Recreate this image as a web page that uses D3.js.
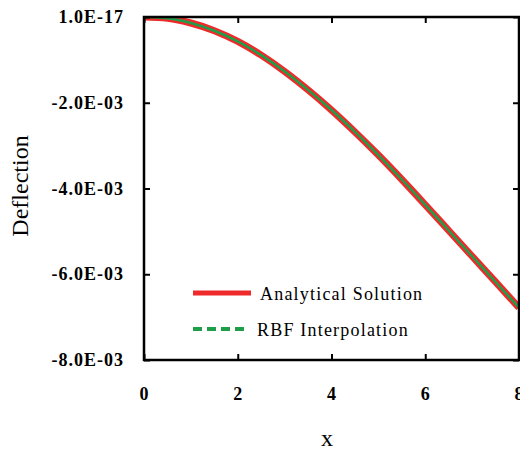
<!DOCTYPE html>
<html>
<head>
<meta charset="utf-8">
<script src="https://cdn.jsdelivr.net/npm/d3@7"></script>
<style>
  body { margin: 0; background: #fff; }
  text { font-family: "Liberation Serif", "Times New Roman", serif; }
</style>
</head>
<body>
<svg id="chart" width="520" height="454"></svg>
<script>
// values
const xValues = [0, 0.5, 1, 1.5, 2, 2.5, 3, 3.5, 4, 4.5, 5, 5.5, 6, 6.5, 7, 7.5, 8];
const analytical = [0, -0.00003, -0.00014, -0.00032, -0.00057, -0.00089, -0.00127, -0.00170,
    -0.00217, -0.00268, -0.00322, -0.00379, -0.00438, -0.00498, -0.00558, -0.00618, -0.00678];
const rbf = [0, -0.00003, -0.00014, -0.00032, -0.00057, -0.00089, -0.00127, -0.00170,
    -0.00217, -0.00268, -0.00322, -0.00379, -0.00438, -0.00498, -0.00558, -0.00618, -0.00678];
const xTicks = [0, 2, 4, 6, 8];
const yTicks = [1e-17, -0.002, -0.004, -0.006, -0.008];
const yTickLabels = ["1.0E-17", "-2.0E-03", "-4.0E-03", "-6.0E-03", "-8.0E-03"];
const seriesNames = ["Analytical Solution", "RBF Interpolation"];

const svg = d3.select("#chart");
const mLeft = 144, mRight = 519, mTop = 17, mBottom = 360;

const x = d3.scaleLinear().domain([0, 8]).range([mLeft, mRight]);
const y = d3.scaleLinear().domain([-0.008, 1e-17]).range([mBottom, mTop]);

const red = "#ee2a2a", green = "#1f9e4a";

const line = d3.line().x((d, i) => x(xValues[i])).y(d => y(d)).curve(d3.curveMonotoneX);

// curves, clipped to the frame
svg.append("clipPath").attr("id", "clip")
    .append("rect").attr("x", mLeft).attr("y", mTop).attr("width", mRight - mLeft).attr("height", mBottom - mTop);

const plot = svg.append("g").attr("clip-path", "url(#clip)");
plot.append("path").datum(analytical)
    .attr("d", line).attr("fill", "none")
    .attr("stroke", red).attr("stroke-width", 7);
plot.append("path").datum(rbf)
    .attr("d", line).attr("fill", "none")
    .attr("stroke", green).attr("stroke-width", 2.5);

// axes with inward ticks on all four sides
const tickLen = 6;
svg.append("g").attr("transform", `translate(0,${mBottom})`)
    .call(d3.axisTop(x).tickValues(xTicks).tickSize(tickLen).tickFormat(""));
svg.append("g").attr("transform", `translate(0,${mTop})`)
    .call(d3.axisBottom(x).tickValues(xTicks).tickSize(tickLen).tickFormat(""));
svg.append("g").attr("transform", `translate(${mLeft},0)`)
    .call(d3.axisRight(y).tickValues(yTicks).tickSize(tickLen).tickFormat(""));
svg.append("g").attr("transform", `translate(${mRight},0)`)
    .call(d3.axisLeft(y).tickValues(yTicks).tickSize(tickLen).tickFormat(""));
svg.selectAll(".domain").remove();
svg.selectAll(".tick line").attr("stroke", "#000").attr("stroke-width", 2);

svg.append("rect")
    .attr("x", mLeft).attr("y", mTop)
    .attr("width", mRight - mLeft).attr("height", mBottom - mTop)
    .attr("fill", "none").attr("stroke", "#000").attr("stroke-width", 2.5);

// tick labels
svg.selectAll(".xlab").data(xTicks).enter().append("text")
    .attr("x", d => x(d)).attr("y", 400)
    .attr("text-anchor", "middle")
    .attr("font-size", 18).attr("font-weight", "bold")
    .text(d => d);

svg.selectAll(".ylab").data(yTicks).enter().append("text")
    .attr("x", 124).attr("y", d => y(d) + 6)
    .attr("text-anchor", "end")
    .attr("font-size", 18).attr("font-weight", "bold")
    .attr("letter-spacing", 1)
    .text((d, i) => yTickLabels[i]);

// axis titles
svg.append("text")
    .attr("x", 327).attr("y", 446)
    .attr("text-anchor", "middle").attr("font-size", 24)
    .text("x");
svg.append("text")
    .attr("transform", "translate(28,186) rotate(-90)")
    .attr("text-anchor", "middle").attr("font-size", 24)
    .text("Deflection");

// legend
const legend = svg.append("g");
legend.append("line")
    .attr("x1", 193).attr("x2", 251).attr("y1", 293).attr("y2", 293)
    .attr("stroke", red).attr("stroke-width", 5);
legend.append("line")
    .attr("x1", 193).attr("x2", 248).attr("y1", 329).attr("y2", 329)
    .attr("stroke", green).attr("stroke-width", 4)
    .attr("stroke-dasharray", "9,5");
legend.selectAll(".leg").data(seriesNames).enter().append("text")
    .attr("x", (d, i) => i === 0 ? 260 : 257)
    .attr("y", (d, i) => i === 0 ? 300 : 336)
    .attr("font-size", 18)
    .attr("letter-spacing", 1.2)
    .text(d => d);
</script>
</body>
</html>
